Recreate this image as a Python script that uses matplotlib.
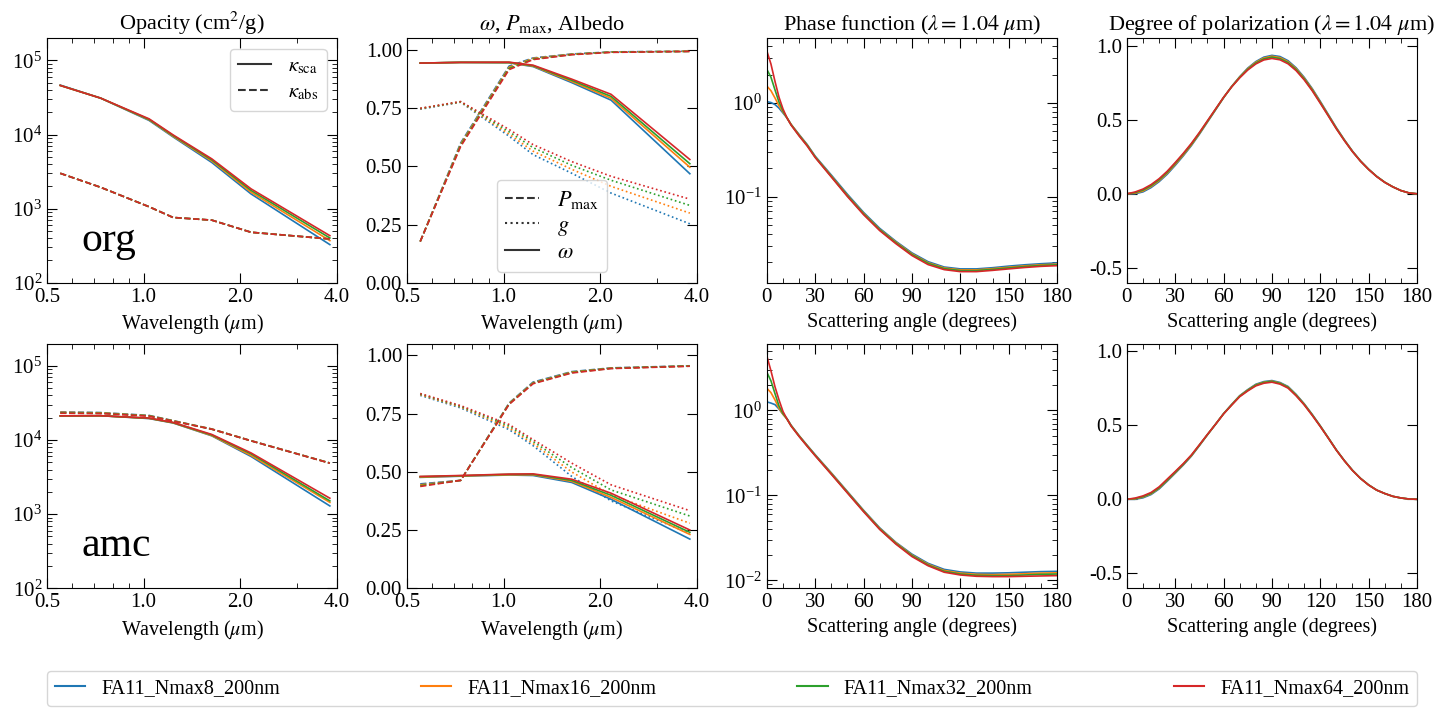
import matplotlib
matplotlib.use("Agg")
import matplotlib.pyplot as plt
from matplotlib.lines import Line2D
from matplotlib.ticker import FixedLocator, FormatStrFormatter, NullFormatter, MultipleLocator

plt.rcParams['font.family'] = 'serif'
plt.rcParams['font.serif'] = ['Liberation Serif', 'DejaVu Serif']
plt.rcParams['mathtext.fontset'] = 'stix'

# --- data ---
runs = ['FA11_Nmax8_200nm', 'FA11_Nmax16_200nm', 'FA11_Nmax32_200nm', 'FA11_Nmax64_200nm']
colors = ['tab:blue', 'tab:orange', 'tab:green', 'tab:red']
wl = [0.55, 0.735, 1.04, 1.235, 1.63, 2.16, 3.8]

# org
org_ksca = [[4.65e4, 3.1e4, 1.55e4, 9.3e3, 4.2e3, 1.58e3, 3.27e2],
            [4.6e4, 3.1e4, 1.58e4, 9.5e3, 4.4e3, 1.67e3, 3.7e2],
            [4.6e4, 3.1e4, 1.6e4, 9.7e3, 4.55e3, 1.76e3, 4.02e2],
            [4.6e4, 3.1e4, 1.63e4, 9.9e3, 4.7e3, 1.85e3, 4.32e2]]
org_kabs = [[3.0e3, 1.94e3, 1.06e3, 7.6e2, 7.0e2, 4.8e2, 3.9e2],
            [3.0e3, 1.94e3, 1.06e3, 7.6e2, 7.0e2, 4.8e2, 3.9e2],
            [3.0e3, 1.94e3, 1.06e3, 7.6e2, 7.0e2, 4.8e2, 3.9e2],
            [3.0e3, 1.94e3, 1.06e3, 7.6e2, 7.0e2, 4.8e2, 3.9e2]]
org_omega = [[0.943, 0.946, 0.944, 0.928, 0.859, 0.784, 0.468],
             [0.943, 0.946, 0.945, 0.930, 0.864, 0.792, 0.496],
             [0.943, 0.946, 0.946, 0.932, 0.869, 0.800, 0.511],
             [0.943, 0.946, 0.947, 0.934, 0.874, 0.809, 0.529]]
org_pmax = [[0.177, 0.600, 0.930, 0.965, 0.982, 0.991, 0.994],
            [0.177, 0.595, 0.925, 0.963, 0.981, 0.990, 0.994],
            [0.177, 0.590, 0.920, 0.960, 0.980, 0.990, 0.993],
            [0.177, 0.585, 0.915, 0.958, 0.979, 0.989, 0.993]]
org_g = [[0.745, 0.775, 0.629, 0.550, 0.470, 0.385, 0.253],
         [0.747, 0.776, 0.638, 0.565, 0.487, 0.414, 0.299],
         [0.748, 0.777, 0.648, 0.580, 0.504, 0.440, 0.332],
         [0.749, 0.778, 0.658, 0.593, 0.520, 0.457, 0.359]]

# amc
amc_ksca = [[2.12e4, 2.13e4, 1.95e4, 1.70e4, 1.14e4, 6.0e3, 1.29e3],
            [2.12e4, 2.13e4, 1.96e4, 1.71e4, 1.15e4, 6.2e3, 1.44e3],
            [2.12e4, 2.13e4, 1.97e4, 1.72e4, 1.17e4, 6.5e3, 1.51e3],
            [2.12e4, 2.13e4, 1.98e4, 1.73e4, 1.19e4, 6.7e3, 1.64e3]]
amc_kabs = [[2.40e4, 2.35e4, 2.15e4, 1.83e4, 1.41e4, 9.8e3, 4.9e3],
            [2.37e4, 2.33e4, 2.13e4, 1.82e4, 1.41e4, 9.8e3, 4.9e3],
            [2.33e4, 2.30e4, 2.12e4, 1.81e4, 1.40e4, 9.75e3, 4.88e3],
            [2.30e4, 2.28e4, 2.10e4, 1.80e4, 1.40e4, 9.75e3, 4.87e3]]
amc_omega = [[0.476, 0.481, 0.486, 0.484, 0.454, 0.382, 0.211],
             [0.477, 0.482, 0.487, 0.487, 0.459, 0.390, 0.231],
             [0.479, 0.483, 0.489, 0.489, 0.463, 0.399, 0.240],
             [0.480, 0.484, 0.490, 0.491, 0.468, 0.408, 0.250]]
amc_pmax = [[0.448, 0.463, 0.795, 0.885, 0.930, 0.946, 0.955],
            [0.444, 0.463, 0.793, 0.882, 0.928, 0.945, 0.954],
            [0.440, 0.463, 0.791, 0.880, 0.926, 0.944, 0.954],
            [0.437, 0.463, 0.789, 0.878, 0.924, 0.943, 0.953]]
amc_g = [[0.828, 0.774, 0.681, 0.612, 0.480, 0.375, 0.235],
         [0.831, 0.778, 0.688, 0.621, 0.499, 0.401, 0.279],
         [0.834, 0.781, 0.696, 0.630, 0.518, 0.422, 0.310],
         [0.836, 0.784, 0.703, 0.638, 0.537, 0.444, 0.333]]

# phase function at 1.04 um
ang_s11 = [0, 2.5, 5, 7.5, 10, 12.5, 15, 20, 25, 30, 40, 50, 60, 70, 80, 90,
           100, 110, 120, 130, 140, 150, 160, 170, 180]
org_s11 = [[1.03, 1.01, 0.96, 0.88, 0.78, 0.69, 0.59, 0.46, 0.360, 0.270, 0.170, 0.106, 0.0680,
            0.0460, 0.0335, 0.0252, 0.0203, 0.0178, 0.0170, 0.0170, 0.0175, 0.0182, 0.0188, 0.0193, 0.0197],
           [1.51, 1.35, 1.13, 0.93, 0.80, 0.69, 0.59, 0.455, 0.355, 0.266, 0.166, 0.103, 0.0663,
            0.0448, 0.0328, 0.0246, 0.0198, 0.0174, 0.0166, 0.0166, 0.0171, 0.0177, 0.0183, 0.0188, 0.0191],
           [2.27, 1.88, 1.38, 1.02, 0.82, 0.69, 0.585, 0.449, 0.352, 0.264, 0.164, 0.102, 0.0655,
            0.0444, 0.0323, 0.0242, 0.0195, 0.0171, 0.0163, 0.0163, 0.0168, 0.0174, 0.0180, 0.0185, 0.0188],
           [3.56, 2.60, 1.70, 1.15, 0.86, 0.69, 0.58, 0.444, 0.347, 0.261, 0.162, 0.1003, 0.0643,
            0.0435, 0.0316, 0.0236, 0.0189, 0.0167, 0.0159, 0.0159, 0.0164, 0.0170, 0.0176, 0.0181, 0.0184]]
amc_s11 = [[1.26, 1.22, 1.17, 1.04, 0.90, 0.80, 0.67, 0.505, 0.389, 0.301, 0.184, 0.111, 0.0669,
            0.0416, 0.0281, 0.0204, 0.0159, 0.0135, 0.0126, 0.0122, 0.0122, 0.0123, 0.0125, 0.0127, 0.0128],
           [1.82, 1.62, 1.33, 1.06, 0.90, 0.79, 0.665, 0.502, 0.385, 0.297, 0.182, 0.1094, 0.0660,
            0.0409, 0.0277, 0.0199, 0.0155, 0.0131, 0.0122, 0.0118, 0.0117, 0.0118, 0.0120, 0.0122, 0.0123],
           [2.80, 2.23, 1.58, 1.13, 0.92, 0.79, 0.66, 0.497, 0.382, 0.295, 0.179, 0.108, 0.0652,
            0.0403, 0.0272, 0.0196, 0.0152, 0.0128, 0.0119, 0.0115, 0.0114, 0.0114, 0.0116, 0.0118, 0.0119],
           [4.33, 2.93, 1.90, 1.33, 0.97, 0.79, 0.655, 0.493, 0.378, 0.292, 0.177, 0.1066, 0.0643,
            0.0398, 0.0268, 0.0191, 0.0149, 0.0125, 0.0116, 0.0112, 0.0111, 0.0111, 0.0112, 0.0113, 0.0114]]

# degree of polarization at 1.04 um
ang_pol = [0, 5, 10, 15, 20, 25, 30, 35, 40, 45, 50, 55, 60, 65, 70, 75, 80, 85, 90,
           95, 100, 105, 110, 115, 120, 125, 130, 135, 140, 145, 150, 155, 160, 165, 170, 175, 180]
org_pol = [[0.0, 0.0, 0.013, 0.042, 0.082, 0.132, 0.192, 0.256, 0.325, 0.402, 0.484, 0.566, 0.648,
            0.724, 0.790, 0.848, 0.892, 0.922, 0.934, 0.926, 0.898, 0.850, 0.786, 0.710, 0.624,
            0.535, 0.446, 0.364, 0.288, 0.222, 0.166, 0.118, 0.078, 0.047, 0.022, 0.006, 0.0],
           [0.0, 0.004, 0.019, 0.049, 0.089, 0.139, 0.199, 0.262, 0.330, 0.406, 0.487, 0.568, 0.649,
            0.723, 0.788, 0.844, 0.887, 0.916, 0.928, 0.919, 0.891, 0.844, 0.780, 0.705, 0.619,
            0.531, 0.443, 0.362, 0.286, 0.221, 0.165, 0.117, 0.078, 0.047, 0.022, 0.006, 0.0],
           [0.0, 0.008, 0.025, 0.055, 0.095, 0.145, 0.205, 0.268, 0.335, 0.410, 0.490, 0.570, 0.650,
            0.722, 0.785, 0.840, 0.882, 0.910, 0.922, 0.912, 0.885, 0.838, 0.775, 0.700, 0.615,
            0.528, 0.440, 0.360, 0.285, 0.220, 0.165, 0.117, 0.078, 0.047, 0.022, 0.006, 0.0],
           [0.0, 0.012, 0.032, 0.062, 0.102, 0.152, 0.211, 0.273, 0.340, 0.414, 0.493, 0.572, 0.651,
            0.721, 0.782, 0.835, 0.876, 0.903, 0.913, 0.904, 0.877, 0.831, 0.769, 0.695, 0.611,
            0.525, 0.438, 0.358, 0.284, 0.219, 0.164, 0.116, 0.077, 0.047, 0.022, 0.006, 0.0]]
amc_pol = [[0.0, 0.0, 0.010, 0.032, 0.070, 0.122, 0.176, 0.231, 0.291, 0.362, 0.435, 0.506, 0.578,
            0.640, 0.699, 0.740, 0.776, 0.794, 0.801, 0.788, 0.761, 0.708, 0.645, 0.573, 0.496,
            0.415, 0.333, 0.261, 0.196, 0.141, 0.097, 0.062, 0.039, 0.020, 0.009, 0.002, 0.0],
           [0.0, 0.003, 0.015, 0.037, 0.075, 0.127, 0.180, 0.235, 0.294, 0.364, 0.436, 0.506, 0.577,
            0.638, 0.697, 0.737, 0.772, 0.790, 0.797, 0.784, 0.757, 0.704, 0.642, 0.570, 0.494,
            0.414, 0.332, 0.260, 0.195, 0.141, 0.097, 0.062, 0.039, 0.020, 0.009, 0.002, 0.0],
           [0.0, 0.005, 0.018, 0.040, 0.078, 0.130, 0.183, 0.237, 0.296, 0.366, 0.437, 0.506, 0.577,
            0.637, 0.695, 0.735, 0.770, 0.788, 0.795, 0.782, 0.755, 0.702, 0.640, 0.569, 0.493,
            0.413, 0.332, 0.260, 0.195, 0.141, 0.097, 0.062, 0.039, 0.020, 0.009, 0.002, 0.0],
           [0.0, 0.008, 0.023, 0.046, 0.084, 0.136, 0.188, 0.241, 0.299, 0.368, 0.438, 0.506, 0.576,
            0.635, 0.692, 0.731, 0.765, 0.783, 0.790, 0.777, 0.750, 0.698, 0.637, 0.566, 0.491,
            0.412, 0.331, 0.259, 0.194, 0.140, 0.096, 0.062, 0.039, 0.020, 0.009, 0.002, 0.0]]

rows = [
    ('org', org_ksca, org_kabs, org_omega, org_pmax, org_g, org_s11, org_pol, (0.0121, 4.9)),
    ('amc', amc_ksca, amc_kabs, amc_omega, amc_pmax, amc_g, amc_s11, amc_pol, (0.0081, 6.1)),
]

fig, axes = plt.subplots(2, 4, figsize=(14.4, 7.2), dpi=100)
fig.subplots_adjust(left=0.0326, right=0.984, top=0.947, bottom=0.183, wspace=0.241, hspace=0.249)

lw = 1.2
tick_fs = 15
label_fs = 14.5
title_fs = 16


def style(ax):
    ax.tick_params(which='both', direction='in', top=True, right=True, labelsize=tick_fs)
    ax.tick_params(which='major', length=7)
    ax.tick_params(which='minor', length=3.5)


def wl_axis(ax):
    ax.set_xscale('log')
    ax.set_xlim(0.5, 4.0)
    ax.xaxis.set_major_locator(FixedLocator([0.5, 1.0, 2.0, 4.0]))
    ax.xaxis.set_major_formatter(FormatStrFormatter('%.1f'))
    ax.xaxis.set_minor_formatter(NullFormatter())
    ax.set_xlabel(r'Wavelength ($\mu$m)', fontsize=label_fs)


def ang_axis(ax):
    ax.set_xlim(0, 180)
    ax.xaxis.set_major_locator(MultipleLocator(30))
    ax.xaxis.set_minor_locator(MultipleLocator(10))
    ax.set_xlabel('Scattering angle (degrees)', fontsize=label_fs)


for r, (name, ksca, kabs, omega, pmax, g, s11, pol, s11_lim) in enumerate(rows):
    ax1, ax2, ax3, ax4 = axes[r]

    # opacity
    for i in range(4):
        ax1.plot(wl, ksca[i], color=colors[i], lw=lw)
        ax1.plot(wl, kabs[i], color=colors[i], lw=lw, ls='--')
    ax1.set_yscale('log')
    ax1.set_ylim(1e2, 2e5)
    wl_axis(ax1)
    style(ax1)
    ax1.text(0.12, 0.13, name, transform=ax1.transAxes, fontsize=30)

    # omega, Pmax, g
    for i in range(4):
        ax2.plot(wl, pmax[i], color=colors[i], lw=lw, ls='--')
        ax2.plot(wl, g[i], color=colors[i], lw=lw, ls=':')
        ax2.plot(wl, omega[i], color=colors[i], lw=lw)
    ax2.set_ylim(0, 1.05)
    ax2.yaxis.set_major_locator(MultipleLocator(0.25))
    ax2.yaxis.set_major_formatter(FormatStrFormatter('%.2f'))
    wl_axis(ax2)
    style(ax2)

    # phase function
    for i in range(4):
        ax3.plot(ang_s11, s11[i], color=colors[i], lw=lw)
    ax3.set_yscale('log')
    ax3.set_ylim(*s11_lim)
    ang_axis(ax3)
    style(ax3)

    # degree of polarization
    for i in range(4):
        ax4.plot(ang_pol, pol[i], color=colors[i], lw=lw)
    ax4.set_ylim(-0.6, 1.05)
    ax4.yaxis.set_major_locator(MultipleLocator(0.5))
    ax4.yaxis.set_major_formatter(FormatStrFormatter('%.1f'))
    ang_axis(ax4)
    style(ax4)

    if r == 0:
        ax1.set_title(r'Opacity (cm$^2$/g)', fontsize=title_fs)
        ax2.set_title(r'$\omega$, $P_{\rm max}$, Albedo', fontsize=title_fs)
        ax3.set_title(r'Phase function ($\lambda = 1.04$ $\mu$m)', fontsize=title_fs)
        ax4.set_title(r'Degree of polarization ($\lambda = 1.04$ $\mu$m)', fontsize=title_fs)

        h1 = [Line2D([], [], color='#333333', lw=1.5),
              Line2D([], [], color='#333333', lw=1.5, ls='--')]
        ax1.legend(h1, [r'$\kappa_{\rm sca}$', r'$\kappa_{\rm abs}$'], loc='upper right',
                   fontsize=15, handlelength=1.6, labelspacing=0.3)
        h2 = [Line2D([], [], color='#333333', lw=1.5, ls='--'),
              Line2D([], [], color='#333333', lw=1.5, ls=':'),
              Line2D([], [], color='#333333', lw=1.5)]
        ax2.legend(h2, [r'$P_{\rm max}$', r'$g$', r'$\omega$'], loc='lower center',
                   fontsize=16, handlelength=1.5, labelspacing=0.2)

run_handles = [Line2D([], [], color=c, lw=1.5) for c in colors]
fig.legend(run_handles, runs, loc='lower left', ncol=4, mode='expand', fontsize=14.5,
           bbox_to_anchor=(47 / 1440, 14 / 720, 1370 / 1440, 34 / 720), borderaxespad=0,
           handlelength=1.5)

fig.savefig('out.png', dpi=100)
